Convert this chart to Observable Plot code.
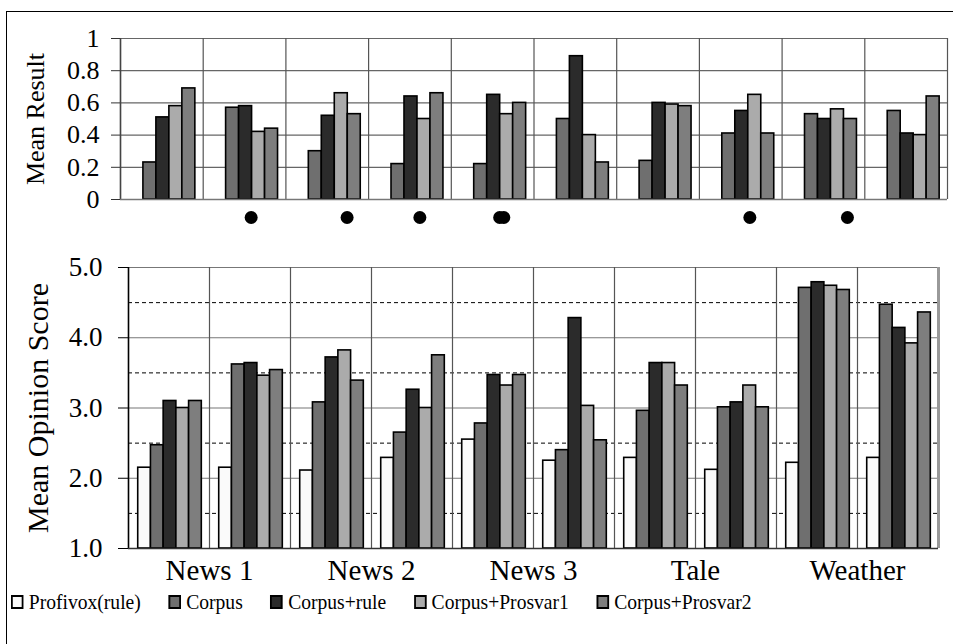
<!DOCTYPE html>
<html><head><meta charset="utf-8">
<script src="https://cdn.jsdelivr.net/npm/d3@7"></script>
<script src="https://cdn.jsdelivr.net/npm/@observablehq/plot@0.6"></script>
<style>
html,body{margin:0;padding:0;background:#fff;overflow:hidden;width:953px;height:644px;}
#box{position:absolute;left:6px;top:11px;width:1000px;height:700px;border:1px solid #000;box-sizing:border-box;}
#topChart{position:absolute;left:0;top:0;}
#bottomChart{position:absolute;left:0;top:245px;}
svg text{font-family:"Liberation Serif","Times New Roman","DejaVu Serif",serif !important;}
#legend{position:absolute;left:11px;top:589px;display:flex;align-items:center;font-family:"Liberation Serif","Times New Roman",serif;font-size:22px;color:#000;white-space:nowrap;transform:scaleX(0.89);transform-origin:left center;}
#legend .item{display:flex;align-items:center;margin-right:31px;}
#legend .sw{width:10px;height:10px;border:2px solid #000;margin-right:6px;}
</style></head>
<body>
<div id="box"></div>
<div id="topChart"></div>
<div id="bottomChart"></div>
<div id="legend"></div>
<script>
// ---------- data ----------
const texts = ["News 1", "News 2", "News 3", "Tale", "Weather"];
const columnsPerText = 2;
const series = ["Profivox(rule)", "Corpus", "Corpus+rule", "Corpus+Prosvar1", "Corpus+Prosvar2"];
const colors = ["#fafafa", "#6f6f6f", "#2b2b2b", "#ababab", "#7e7e7e"];

// Top panel: Mean Result (no Profivox bar)
const resultCorpus   = [0.23, 0.57, 0.30, 0.22, 0.22, 0.50, 0.24, 0.41, 0.53, 0.55];
const resultRule     = [0.51, 0.58, 0.52, 0.64, 0.65, 0.89, 0.60, 0.55, 0.50, 0.41];
const resultProsvar1 = [0.58, 0.42, 0.66, 0.50, 0.53, 0.40, 0.59, 0.65, 0.56, 0.40];
const resultProsvar2 = [0.69, 0.44, 0.53, 0.66, 0.60, 0.23, 0.58, 0.41, 0.50, 0.64];
const resultTicks = [0, 0.2, 0.4, 0.6, 0.8, 1];
// significance markers (x in column units)
const markerX = [1.58, 2.74, 3.62, 4.585, 4.635, 7.61, 8.79];

// Bottom panel: Mean Opinion Score
const mosProfivox = [2.15, 2.15, 2.11, 2.29, 2.55, 2.25, 2.29, 2.12, 2.22, 2.29];
const mosCorpus   = [2.47, 3.62, 3.08, 2.65, 2.78, 2.40, 2.96, 3.01, 4.71, 4.47];
const mosRule     = [3.10, 3.64, 3.72, 3.26, 3.47, 4.28, 3.64, 3.08, 4.79, 4.14];
const mosProsvar1 = [3.00, 3.46, 3.82, 3.00, 3.32, 3.03, 3.64, 3.32, 4.74, 3.92];
const mosProsvar2 = [3.10, 3.54, 3.39, 3.75, 3.47, 2.54, 3.32, 3.01, 4.68, 4.36];
const mosTicks = [1, 2, 3, 4, 5];
const mosHalfTicks = [1.5, 2.5, 3.5, 4.5];

// ---------- build tables ----------
const nCols = texts.length * columnsPerText;
const topSeries = [null, resultCorpus, resultRule, resultProsvar1, resultProsvar2];
const botSeries = [mosProfivox, mosCorpus, mosRule, mosProsvar1, mosProsvar2];
const slot0 = 0.12, slotW = 0.157;
const topData = [], botData = [];
for (let g = 0; g < nCols; g++) {
  for (let s = 0; s < series.length; s++) {
    if (topSeries[s]) topData.push({g, s, name: series[s], v: topSeries[s][g]});
    botData.push({g, s, name: series[s], v: botSeries[s][g]});
  }
}
const barX1 = d => d.g + slot0 + d.s * slotW;
const barX2 = d => d.g + slot0 + (d.s + 1) * slotW;
const colorScale = {domain: series, range: colors};
const font = "'Liberation Serif', 'Times New Roman', serif";
const colEdges = d3.range(nCols + 1);

// ---------- top chart ----------
const topPlot = Plot.plot({
  width: 953, height: 240,
  marginLeft: 120, marginRight: 6, marginTop: 38, marginBottom: 41,
  style: {fontFamily: font, background: "transparent", overflow: "visible"},
  x: {domain: [0, nCols], axis: null},
  y: {domain: [0, 1], axis: null},
  color: colorScale,
  marks: [
    Plot.ruleY(resultTicks, {stroke: "#666", strokeWidth: 1.2}),
    Plot.ruleX(colEdges, {stroke: "#555", strokeWidth: 1.2}),
    Plot.rectY(topData, {x1: barX1, x2: barX2, y1: 0, y2: "v", fill: "name", stroke: "#000", strokeWidth: 1.6}),
    Plot.ruleX([0], {stroke: "#444", strokeWidth: 1.5}),
    Plot.ruleY([0], {stroke: "#777", strokeWidth: 1.5}),
    Plot.axisY({ticks: resultTicks, tickFormat: d => String(d), tickSize: 9, tickPadding: 12, fontSize: 26, stroke: "#333", label: null}),
    Plot.dot(markerX, {x: d => d, frameAnchor: "bottom", dy: 18, r: 6.5, fill: "#000"}),
    Plot.text(["Mean Result"], {frameAnchor: "left", dx: -85, rotate: -90, textAnchor: "middle", fontSize: 26, fill: "#000"})
  ]
});
document.getElementById("topChart").append(topPlot);

// ---------- bottom chart ----------
const bottomPlot = Plot.plot({
  width: 953, height: 355,
  marginLeft: 128, marginRight: 15, marginTop: 22, marginBottom: 52,
  style: {fontFamily: font, background: "transparent", overflow: "visible"},
  x: {domain: [0, nCols], axis: null},
  y: {domain: [1, 5], axis: null},
  color: colorScale,
  marks: [
    Plot.ruleY(mosTicks, {stroke: "#777", strokeWidth: 1.2}),
    Plot.ruleY(mosHalfTicks, {stroke: "#000", strokeWidth: 1, strokeDasharray: "4,3"}),
    Plot.ruleX(colEdges, {stroke: "#555", strokeWidth: 1.2}),
    Plot.ruleX([nCols], {stroke: "#999", strokeWidth: 3}),
    Plot.rectY(botData, {x1: barX1, x2: barX2, y1: 1, y2: "v", fill: "name", stroke: "#000", strokeWidth: 1.6}),
    Plot.ruleX([0], {stroke: "#000", strokeWidth: 1.5}),
    Plot.ruleY([1], {stroke: "#333", strokeWidth: 1.5}),
    Plot.axisY({ticks: mosTicks, tickFormat: d3.format(".1f"), tickSize: 10, tickPadding: 16, fontSize: 27, stroke: "#000", label: null}),
    Plot.text(texts, {x: (d, i) => i * columnsPerText + columnsPerText / 2, frameAnchor: "bottom", dy: 31, fontSize: 29, fill: "#000"}),
    Plot.text(["Mean Opinion Score"], {frameAnchor: "left", dx: -90, rotate: -90, textAnchor: "middle", fontSize: 30, fill: "#000"})
  ]
});
document.getElementById("bottomChart").append(bottomPlot);

// ---------- legend ----------
const legend = d3.select("#legend");
series.forEach((name, i) => {
  const it = legend.append("div").attr("class", "item");
  it.append("div").attr("class", "sw").style("background", colors[i]);
  it.append("span").text(name);
});
</script>
</body></html>
